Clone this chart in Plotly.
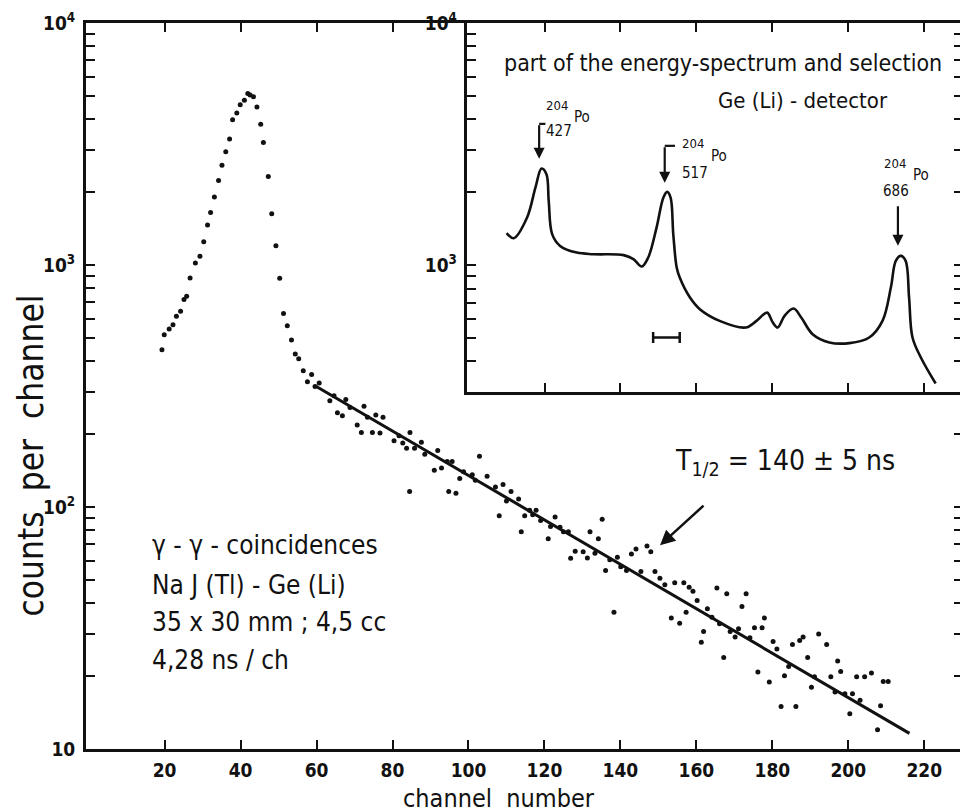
import plotly.graph_objects as go

# ---------------- data ----------------
channel = [19.3, 19.9, 21.2, 22.2, 23.1, 24.2, 25.1, 25.8, 26.7, 28.1, 29.3, 30.3, 31.3, 32.1, 33.1, 34.2,
           35.1, 36.1, 37.1, 37.9, 39.0, 39.9, 41.0, 41.9, 42.5, 43.4, 44.3, 45.3, 46.0, 47.3, 48.2, 49.3,
           50.3, 51.3, 52.3, 53.4, 54.4, 55.3, 56.5,
           57.6, 58.7, 59.6, 60.7, 63.5, 64.6, 65.5, 66.8, 67.7, 68.8, 70.7, 71.8, 72.5, 73.4, 74.7, 75.6,
           76.7, 77.5, 80.4, 81.7, 82.7, 83.7, 84.5, 84.6, 85.8, 87.6, 88.5, 91.0, 91.9, 92.9, 94.4, 94.8,
           95.7, 96.7, 97.7, 98.7, 101.0, 101.8, 102.9, 104.9, 107.1, 108.1, 109.1, 110.0, 111.2, 113.2,
           113.9, 114.8, 116.1, 116.9, 117.8, 119.0, 121.0, 121.6, 122.8, 124.1, 125.0, 126.3, 126.9, 128.1,
           130.2, 131.3, 132.0, 133.3, 134.2, 135.2, 136.1, 137.2, 138.3, 139.2, 140.1, 141.6, 142.9, 144.1,
           145.4, 147.0, 148.0, 149.1, 150.4, 151.7, 153.4, 154.3, 155.6, 156.7, 157.3, 158.1, 159.1, 160.2,
           161.3, 161.9, 162.9, 164.1, 165.4, 166.1, 167.2, 168.0, 168.9, 170.2, 171.1, 172.0, 173.1, 174.1,
           175.3, 176.2, 177.3, 177.9, 179.2, 180.2, 181.2, 182.3, 183.2, 184.3, 185.3, 186.2, 187.2, 188.1,
           189.3, 190.3, 191.1, 192.2, 194.3, 195.4, 196.5, 197.2, 198.0, 199.1, 200.4, 201.1, 202.2, 203.1,
           204.3, 206.1, 207.7, 208.5, 209.2, 210.5]
counts = [447, 515, 544, 567, 614, 644, 720, 742, 883, 1019, 1088, 1248, 1462, 1648, 1908, 2235,
          2586, 2935, 3313, 3980, 4252, 4591, 4797, 5108, 5045, 4953, 4498, 3820, 3209, 2321, 1629, 1202,
          881, 631, 561, 490, 429, 410, 366,
          329, 353, 315, 325, 275, 288, 245, 238, 278, 258, 218, 203, 261, 235, 203, 240,
          202, 235, 188, 197, 184, 175, 116, 203, 175, 185, 165, 142, 171, 145, 154, 116,
          154, 114, 131, 140, 136, 129, 162, 134, 121, 92, 124, 106, 116, 108,
          79, 92, 97, 93, 97, 88, 74, 83, 91, 82.5, 79, 79, 61.4, 65.6,
          65.4, 61.6, 79, 64.4, 74, 89, 54.6, 60.5, 36.7, 62, 56.7, 54.6, 64, 67.1,
          54.1, 69, 65.4, 54.1, 50.8, 47.7, 34.8, 48.6, 33.1, 48.6, 36.7, 46.6, 44.9, 41.1,
          27.6, 30.6, 38.0, 35.0, 46.3, 32.9, 23.9, 43.8, 30.6, 29.0, 31.4, 38.8, 43.8, 28.8,
          31.7, 20.8, 31.7, 34.8, 18.9, 27.8, 25.9, 15.0, 20.1, 21.9, 27.0, 15.0, 28.1, 29.0,
          23.9, 18.0, 19.9, 29.9, 27.0, 19.9, 17.2, 23.1, 20.9, 16.9, 14.0, 16.9, 19.9, 15.9,
          19.9, 20.6, 12.0, 15.1, 19.0, 19.0]

fit_channel = [59.6, 216.1]
fit_counts = [317, 11.6]

# inset: Ge(Li) energy spectrum (arbitrary energy channels)
inset_energy = [10.0, 11.9, 15.4, 17.6, 19.2, 20.5, 21.1, 22.0, 24.1, 28.5, 32.9, 40.8, 43.4, 45.6,
                47.3, 49.5, 51.3, 52.3, 53.2, 53.9, 54.8, 55.6, 58.3, 60.9, 66.1, 73.0, 75.8, 78.6,
                80.1, 81.4, 83.2, 85.6, 87.6, 90.6, 95.0, 100.3, 105.5, 109.0, 111.2, 112.5, 113.8,
                115.1, 116.0, 116.9, 119.1, 123.0]
inset_counts = [1355, 1291, 1571, 2089, 2503, 2373, 1841, 1342, 1200, 1126, 1109, 1099, 1058, 986,
                1074, 1428, 1900, 2005, 1900, 1342, 977, 888, 734, 657, 588, 552, 588, 636,
                579, 552, 617, 661, 607, 518, 479, 476, 502, 588, 807, 1041, 1091,
                1041, 734, 502, 415, 324]
selection_energy = [48.6, 55.6]
selection_counts = [502, 502]

x_ticks = [20, 40, 60, 80, 100, 120, 140, 160, 180, 200, 220]
inset_x_ticks = [20, 40, 60, 80, 100, 120]
y_major = [10, 100, 1000, 10000]
y_major_text = ["10", "10<sup>2</sup>", "10<sup>3</sup>", "10<sup>4</sup>"]
y_minor = [20, 30, 40, 50, 60, 70, 80, 90, 200, 300, 400, 500, 600, 700, 800, 900,
           2000, 3000, 4000, 5000, 6000, 7000, 8000, 9000]
inset_y_major = [1000, 10000]
inset_y_major_text = ["10<sup>3</sup>", "10<sup>4</sup>"]
inset_y_minor = [400, 500, 600, 700, 800, 900, 2000, 3000, 4000, 5000, 6000, 7000, 8000, 9000]

# ---------------- layout helpers (page pixel coordinates) ----------------
PAGE_W, PAGE_H = 968, 812
BODY = 8                       # default page margin of the html body
W, H = PAGE_W - BODY, PAGE_H - BODY
L, R, T, B = 86, 966, 22, 749  # plot area in page pixels


def px(x):
    return (x - L) / (R - L)


def py(y):
    return (B - y) / (B - T)


FONT = "Liberation Sans Narrow, DejaVu Sans Condensed, DejaVu Sans, sans-serif"
BLACK = "#111111"

fig = go.Figure()
fig.add_trace(go.Scatter(x=channel, y=counts, mode="markers",
                         marker=dict(size=5, color=BLACK), showlegend=False))
fig.add_trace(go.Scatter(x=fit_channel, y=fit_counts, mode="lines",
                         line=dict(color=BLACK, width=3), showlegend=False))
fig.add_trace(go.Scatter(x=inset_energy, y=inset_counts, mode="lines", xaxis="x2", yaxis="y2",
                         line=dict(color=BLACK, width=2.6, shape="spline", smoothing=1.0),
                         showlegend=False))
fig.add_trace(go.Scatter(x=selection_energy, y=selection_counts, mode="lines+markers", xaxis="x2",
                         yaxis="y2", line=dict(color=BLACK, width=2.5),
                         marker=dict(symbol="line-ns-open", size=8, line=dict(width=2.5, color=BLACK)),
                         showlegend=False))

axis_common = dict(showgrid=False, zeroline=False, showline=True, linecolor=BLACK, linewidth=3,
                   ticks="inside", ticklen=9, tickwidth=2, tickcolor=BLACK, mirror="allticks")
minor_style = dict(ticks="inside", ticklen=9, tickwidth=2, tickcolor=BLACK, showgrid=False)
tick_font = dict(size=19, family=FONT, weight="bold")

fig.update_layout(
    width=W, height=H, margin=dict(l=L - BODY, r=PAGE_W - R, t=T - BODY, b=PAGE_H - B),
    paper_bgcolor="white", plot_bgcolor="white",
    font=dict(family=FONT, color=BLACK),
    xaxis=dict(range=[-0.7, 230.2], tickvals=x_ticks, ticktext=[str(t) for t in x_ticks],
               tickfont=tick_font, ticklabelstandoff=2, **axis_common),
    yaxis=dict(type="log", range=[1, 4], tickvals=y_major, ticktext=y_major_text,
               tickfont=tick_font, ticklabelstandoff=4,
               minor=dict(tickvals=y_minor, **minor_style), **axis_common),
    xaxis2=dict(domain=[px(468), 1.0], anchor="y2", range=[-0.5, 130.2], tickvals=inset_x_ticks,
                showticklabels=False, **axis_common),
    yaxis2=dict(domain=[py(392), 1.0], anchor="x2", type="log", range=[2.4735, 4],
                tickvals=inset_y_major, ticktext=inset_y_major_text,
                tickfont=tick_font, ticklabelstandoff=3,
                minor=dict(tickvals=inset_y_minor, **minor_style), **axis_common),
)

ann = []


def text(s, x, y, size, xanchor="left", angle=0, yanchor="middle"):
    ann.append(dict(text=s, x=px(x), y=py(y), xref="paper", yref="paper", showarrow=False,
                    xanchor=xanchor, yanchor=yanchor, textangle=angle,
                    font=dict(size=size, family=FONT, color=BLACK)))


def arrow(xh, yh, xt, yt, width=2.5, size=1.0):
    ann.append(dict(text="", x=px(xh), y=py(yh), xref="paper", yref="paper", showarrow=True,
                    ax=xt - xh, ay=yt - yh, arrowhead=2, arrowsize=size, arrowwidth=width,
                    arrowcolor=BLACK))


# axis titles
text("counts  per  channel", 31, 455, 35, xanchor="center", angle=-90)
text("channel  number", 500, 799, 25, xanchor="center")

# measurement info
text("γ - γ - coincidences", 150, 545, 26)
text("Na J (Tl) - Ge (Li)", 150, 585, 26)
text("35 x 30 mm ; 4,5 cc", 150, 622, 26)
text("4,28 ns / ch", 150, 660, 26)

# half-life
text("T<sub>1/2</sub> = 140 ± 5 ns", 675, 462, 28)
arrow(662, 545, 707, 504, width=2.5, size=1.2)

# inset texts
text("part of the energy-spectrum and selection", 725, 62, 23, xanchor="center")
text("Ge (Li) - detector", 805, 100, 22, xanchor="center")

text("204", 546, 105, 13)
text("Po", 574, 116, 15)
text("427", 546, 130, 15)
arrow(540.7, 158, 540.7, 123, width=2.2)

text("204", 682, 143, 13)
text("Po", 711, 155, 15)
text("517", 682, 172, 15)
arrow(666.7, 182, 666.7, 145, width=2.2)

text("204", 885, 163, 13)
text("Po", 914, 174, 15)
text("686", 884, 190, 15)
arrow(900.7, 245, 900.7, 204, width=2.2)

fig.update_layout(annotations=ann)

shapes = [
    dict(type="line", xref="paper", yref="paper", x0=px(540.7), x1=px(547), y0=py(123), y1=py(123),
         line=dict(color=BLACK, width=2.2)),
    dict(type="line", xref="paper", yref="paper", x0=px(666.7), x1=px(677), y0=py(145), y1=py(145),
         line=dict(color=BLACK, width=2.2)),
]
fig.update_layout(shapes=shapes)

fig.write_html("out.html")
